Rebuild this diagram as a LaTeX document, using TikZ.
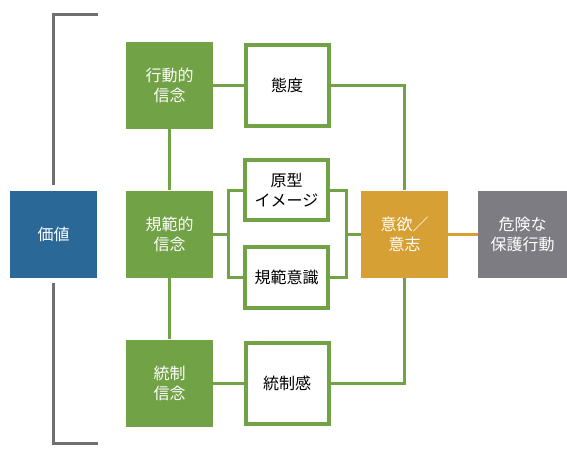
\documentclass[tikz,border=0pt]{standalone}
\usepackage{fontspec}
\setmainfont{Noto Sans CJK JP}
\usetikzlibrary{positioning}
\definecolor{valueblue}{RGB}{42,104,152}
\definecolor{belief}{RGB}{114,162,70}
\definecolor{intent}{RGB}{214,160,52}
\definecolor{actgray}{RGB}{124,124,130}
\definecolor{bracketgray}{RGB}{112,112,112}

\begin{document}
\begin{tikzpicture}[x=1pt,y=-1pt,
        box/.style={minimum width=87pt,minimum height=87pt,inner sep=0pt,align=center,
            font=\fontsize{16}{20}\selectfont},
        filled/.style={box,fill=#1,text=white},
        outlined/.style={box,draw=belief,line width=4pt,fill=white,
            minimum width=83pt,minimum height=81pt},
        link/.style={draw=belief,line width=3pt},
        bracket/.style={draw=bracketgray,line width=3pt}]
        \useasboundingbox (0,0) rectangle (567,456);

        \node[filled=valueblue] (value) at (53.5,234) {価値};
        \node[filled=belief] (behav) at (169.5,85) {行動的\\信念};
        \node[filled=belief] (norm) at (169.5,234) {規範的\\信念};
        \node[filled=belief] (ctrl) at (169.5,383) {統制\\信念};

        \node[outlined] (attitude) at (287,85) {態度};
        \node[outlined,minimum height=60pt] (proto) at (286.5,190) {原型\\イメージ};
        \node[outlined,minimum height=61pt] (normaware) at (286.5,277.5) {規範意識};
        \node[outlined] (pcontrol) at (287,383) {統制感};

        \node[filled=intent] (will) at (404.5,234) {意欲／\\意志};
        \node[filled=actgray,minimum width=89pt] (action) at (522.5,234) {危険な\\保護行動};

        \coordinate (lsplit) at (228,234);
        \coordinate (rsplit) at (346,234);
        \coordinate (btop) at (98,14);
        \coordinate (bbot) at (98,443);

        % bracket round the value
        \draw[bracket,shorten >=5pt] (btop) -| (value.north);
        \draw[bracket,shorten >=5pt] (bbot) -| (value.south);

        \begin{scope}[on background layer/.try]
            \draw[link] (behav) -- (norm);
            \draw[link] (norm) -- (ctrl);
            \draw[link] (behav) -- (attitude);
            \draw[link] (ctrl) -- (pcontrol);
            \draw[link] (norm) -- (lsplit);
            \draw[link] (proto.west) -| (lsplit) |- (normaware.west);
            \draw[link] (proto.east) -| (rsplit) |- (normaware.east);
            \draw[link] (rsplit) -- (will);
            \draw[link] (attitude.east) -| (will.north);
            \draw[link] (pcontrol.east) -| (will.south);
            \draw[draw=intent,line width=3pt] (will) -- (action);
        \end{scope}
    \end{tikzpicture}
\end{document}
